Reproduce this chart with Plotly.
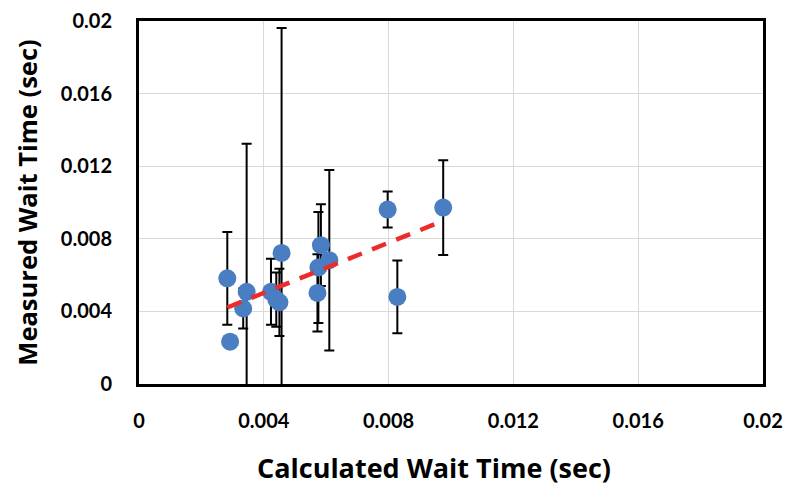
import numpy as np
import plotly.graph_objects as go

# Calculated vs measured wait times (seconds) with measurement uncertainty
calc_wait = [0.00283, 0.00292, 0.00345, 0.00334, 0.00423, 0.00440, 0.00450,
             0.00457, 0.00583, 0.00575, 0.00610, 0.00572, 0.00797, 0.00975, 0.00828]
meas_wait = [0.00582, 0.00233, 0.00508, 0.00416, 0.00508, 0.00465, 0.00450,
             0.00722, 0.00765, 0.00642, 0.00682, 0.00502, 0.00961, 0.00972, 0.00480]
meas_err = [0.00255, 0.00000, 0.00816, 0.00110, 0.00182, 0.00150, 0.00185,
            0.01240, 0.00225, 0.00306, 0.00497, 0.00213, 0.00099, 0.00261, 0.00201]

tick_vals = [0, 0.004, 0.008, 0.012, 0.016, 0.02]
tick_text = ["0", "0.004", "0.008", "0.012", "0.016", "0.02"]

x_title = "Calculated Wait Time (sec)"
y_title = "Measured Wait Time (sec)"

# Least-squares linear trend over the calculated range
slope, intercept = np.polyfit(calc_wait, meas_wait, 1)
trend_x = np.array([min(calc_wait), max(calc_wait)])
trend_y = slope * trend_x + intercept

TICK_FONT = "Lato"
TITLE_FONT = "Open Sans"

fig = go.Figure()
fig.add_trace(go.Scatter(
    x=calc_wait, y=meas_wait, mode="markers",
    marker=dict(size=18, color="#4A7EC2", line=dict(width=0)),
    error_y=dict(type="data", array=meas_err, visible=True,
                 color="black", thickness=2, width=5),
    showlegend=False,
))
fig.add_trace(go.Scatter(
    x=trend_x, y=trend_y, mode="lines",
    line=dict(color="#EE2B2B", width=4.5, dash="15px,11px"),
    showlegend=False,
))

axis_common = dict(
    range=[0, 0.02], tickvals=tick_vals, ticktext=tick_text,
    showgrid=True, gridcolor="#D9D9D9", gridwidth=1,
    showline=True, linecolor="black", linewidth=3, mirror=True,
    zeroline=False, ticks="", automargin=False,
    tickfont=dict(family=TICK_FONT, size=20, color="black", weight="bold"),
)

fig.update_layout(
    width=785, height=487,
    margin=dict(l=139, r=22, t=21, b=103),
    paper_bgcolor="white", plot_bgcolor="white",
    xaxis=dict(**axis_common, ticklabelstandoff=17),
    yaxis=dict(**axis_common, ticklabelstandoff=20,
               title=dict(text=y_title, standoff=16,
                          font=dict(family=TITLE_FONT, size=25.5, color="black", weight="bold"))),
)

# Horizontal axis title, centred under the whole chart rather than the plot area
fig.add_annotation(
    text=x_title, xref="paper", yref="paper", x=0.4728, y=-0.231,
    xanchor="center", yanchor="middle", showarrow=False,
    font=dict(family=TITLE_FONT, size=27, color="black", weight="bold"),
)

fig.write_html("out.html")
